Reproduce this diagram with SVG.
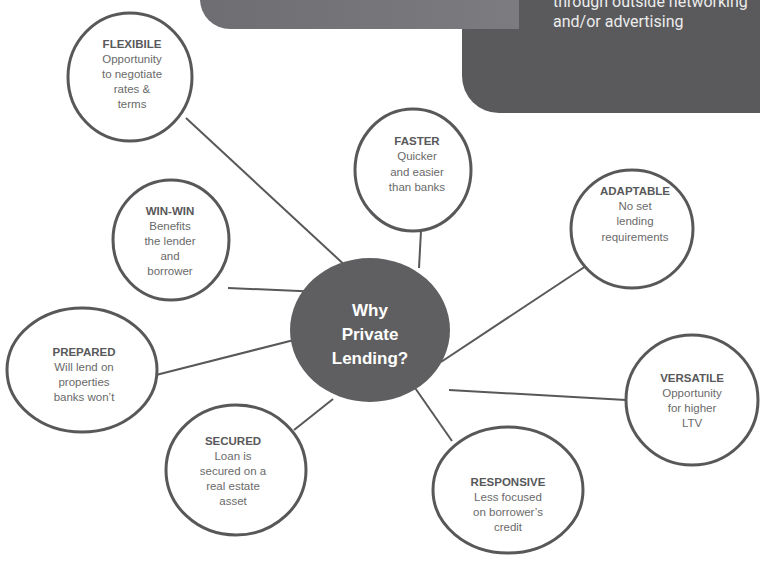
<svg xmlns="http://www.w3.org/2000/svg" width="760" height="564" viewBox="0 0 760 564">
<defs>
<linearGradient id="lg" x1="0" y1="0" x2="1" y2="0">
<stop offset="0" stop-color="#6e6e72"/>
<stop offset="1" stop-color="#7c7c80"/>
</linearGradient>
</defs>
<style>
.node{fill:#fff;stroke:#58585a;stroke-width:3}
.conn{stroke:#58585a;stroke-width:2;fill:none}
.t{font-family:"Liberation Sans",Arial,sans-serif;font-size:11.5px;text-anchor:middle;fill:#6a6a6a}
.b{font-weight:bold;fill:#58585a}
.c{font-family:"Liberation Sans",Arial,sans-serif;font-size:17px;font-weight:bold;text-anchor:middle;fill:#fff}
.box{font-family:Roboto,"Liberation Sans",sans-serif;font-size:16px;fill:#ececec}
</style>
<g id="panels">
<rect x="462" y="-60" width="340" height="173" rx="37" fill="#5a5a5c"/>
<path d="M519,-10 V29 H230 A30,30 0 0 1 200,-1 V-10 Z" fill="url(#lg)"/>
<text class="box" x="553" y="7">through outside networking</text>
<text class="box" x="553" y="27">and/or advertising</text>
</g>
<g id="connectors">
<line class="conn" x1="186" y1="118" x2="350" y2="270"/>
<line class="conn" x1="421" y1="231" x2="419" y2="268"/>
<line class="conn" x1="589" y1="264" x2="441" y2="362"/>
<line class="conn" x1="228" y1="288" x2="322" y2="292"/>
<line class="conn" x1="156" y1="375" x2="294" y2="340"/>
<line class="conn" x1="449" y1="390" x2="626" y2="400"/>
<line class="conn" x1="294" y1="430" x2="333" y2="399"/>
<line class="conn" x1="452" y1="441" x2="413" y2="385"/>
</g>
<g id="flexibile">
<ellipse class="node" cx="130" cy="77" rx="62" ry="64"/>
<text class="t b" x="132" y="48">FLEXIBILE</text>
<text class="t" x="132" y="63">Opportunity</text>
<text class="t" x="132" y="78">to negotiate</text>
<text class="t" x="132" y="93">rates &amp;</text>
<text class="t" x="132" y="108">terms</text>
</g>
<g id="faster">
<ellipse class="node" cx="413" cy="170" rx="58" ry="61"/>
<text class="t b" x="417" y="145">FASTER</text>
<text class="t" x="417" y="160">Quicker</text>
<text class="t" x="417" y="176">and easier</text>
<text class="t" x="417" y="191">than banks</text>
</g>
<g id="adaptable">
<ellipse class="node" cx="632" cy="229" rx="61" ry="59"/>
<text class="t b" x="635" y="195">ADAPTABLE</text>
<text class="t" x="635" y="210">No set</text>
<text class="t" x="635" y="225">lending</text>
<text class="t" x="635" y="241">requirements</text>
</g>
<g id="winwin">
<ellipse class="node" cx="171" cy="240" rx="58" ry="60"/>
<text class="t b" x="170" y="215">WIN-WIN</text>
<text class="t" x="170" y="230">Benefits</text>
<text class="t" x="170" y="245">the lender</text>
<text class="t" x="170" y="260">and</text>
<text class="t" x="170" y="275">borrower</text>
</g>
<g id="center">
<ellipse cx="370" cy="330" rx="80" ry="72" fill="#5f5f61"/>
<text class="c" x="370" y="316">Why</text>
<text class="c" x="370" y="340">Private</text>
<text class="c" x="370" y="364">Lending?</text>
</g>
<g id="prepared">
<ellipse class="node" cx="82" cy="370" rx="75" ry="62"/>
<text class="t b" x="84" y="356">PREPARED</text>
<text class="t" x="84" y="371">Will lend on</text>
<text class="t" x="84" y="386">properties</text>
<text class="t" x="84" y="401">banks won’t</text>
</g>
<g id="versatile">
<ellipse class="node" cx="692" cy="400" rx="66" ry="65"/>
<text class="t b" x="692" y="382">VERSATILE</text>
<text class="t" x="692" y="397">Opportunity</text>
<text class="t" x="692" y="412">for higher</text>
<text class="t" x="692" y="427">LTV</text>
</g>
<g id="secured">
<ellipse class="node" cx="236" cy="470" rx="70" ry="65"/>
<text class="t b" x="233" y="445">SECURED</text>
<text class="t" x="233" y="460">Loan is</text>
<text class="t" x="233" y="475">secured on a</text>
<text class="t" x="233" y="490">real estate</text>
<text class="t" x="233" y="505">asset</text>
</g>
<g id="responsive">
<ellipse class="node" cx="508" cy="490" rx="75" ry="63"/>
<text class="t b" x="508" y="486">RESPONSIVE</text>
<text class="t" x="508" y="501">Less focused</text>
<text class="t" x="508" y="516">on borrower’s</text>
<text class="t" x="508" y="531">credit</text>
</g>
</svg>
